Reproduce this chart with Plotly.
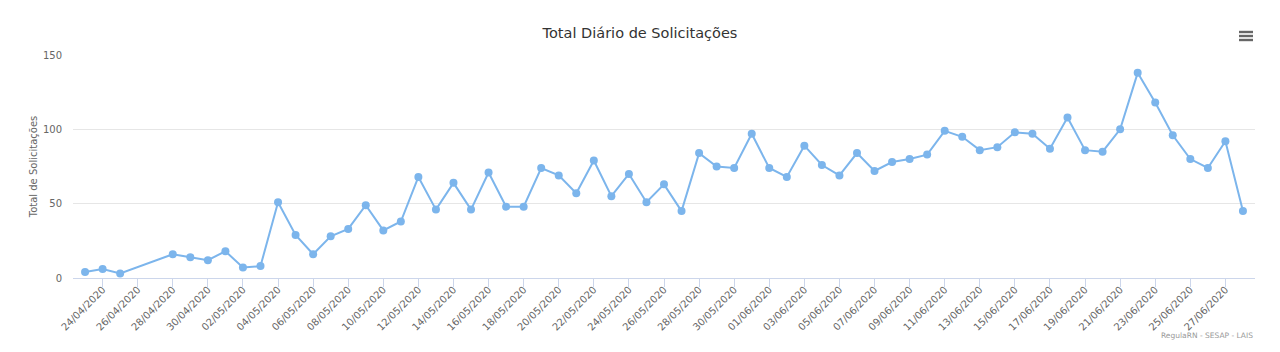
import plotly.graph_objects as go

dates = [
    "2020-04-23", "2020-04-24", "2020-04-25", "2020-04-28", "2020-04-29", "2020-04-30",
    "2020-05-01", "2020-05-02", "2020-05-03", "2020-05-04", "2020-05-05", "2020-05-06",
    "2020-05-07", "2020-05-08", "2020-05-09", "2020-05-10", "2020-05-11", "2020-05-12",
    "2020-05-13", "2020-05-14", "2020-05-15", "2020-05-16", "2020-05-17", "2020-05-18",
    "2020-05-19", "2020-05-20", "2020-05-21", "2020-05-22", "2020-05-23", "2020-05-24",
    "2020-05-25", "2020-05-26", "2020-05-27", "2020-05-28", "2020-05-29", "2020-05-30",
    "2020-05-31", "2020-06-01", "2020-06-02", "2020-06-03", "2020-06-04", "2020-06-05",
    "2020-06-06", "2020-06-07", "2020-06-08", "2020-06-09", "2020-06-10", "2020-06-11",
    "2020-06-12", "2020-06-13", "2020-06-14", "2020-06-15", "2020-06-16", "2020-06-17",
    "2020-06-18", "2020-06-19", "2020-06-20", "2020-06-21", "2020-06-22", "2020-06-23",
    "2020-06-24", "2020-06-25", "2020-06-26", "2020-06-27", "2020-06-28",
]

totals = [
    4, 6, 3, 16, 14, 12,
    18, 7, 8, 51, 29, 16,
    28, 33, 49, 32, 38, 68,
    46, 64, 46, 71, 48, 48,
    74, 69, 57, 79, 55, 70,
    51, 63, 45, 84, 75, 74,
    97, 74, 68, 89, 76, 69,
    84, 72, 78, 80, 83, 99,
    95, 86, 88, 98, 97, 87,
    108, 86, 85, 100, 138, 118,
    96, 80, 74, 92, 45,
]

title_text = "Total Diário de Solicitações"
y_title = "Total de Solicitações"
credits_text = "RegulaRN - SESAP - LAIS"

FONT = "DejaVu Sans"
W, H = 1280, 352
ML, MR, MT, MB = 73, 25, 55, 74

fig = go.Figure()
fig.add_trace(go.Scatter(
    x=dates, y=totals, mode="lines+markers",
    line=dict(color="#7cb5ec", width=2),
    marker=dict(color="#7cb5ec", size=8),
    showlegend=False,
    hovertemplate="%{x|%d/%m/%Y}: %{y}<extra></extra>",
))

fig.update_layout(
    width=W, height=H,
    margin=dict(l=ML, r=MR, t=MT, b=MB),
    paper_bgcolor="white", plot_bgcolor="white",
    font=dict(family=FONT, color="#666666", size=10),
    title=dict(text=title_text, x=0.5, xanchor="center", y=1 - 33 / H, yanchor="middle",
               font=dict(family=FONT, size=14.5, color="#333333")),
    xaxis=dict(
        type="date",
        range=["2020-04-22 07:30", "2020-06-28 16:30"],
        tick0="2020-04-24", dtick=2 * 86400000,
        tickformat="%d/%m/%Y", tickangle=-45,
        ticks="outside", ticklen=8, tickcolor="#ccd6eb",
        ticklabelstandoff=-7,
        showline=True, linecolor="#ccd6eb", linewidth=1,
        showgrid=False, zeroline=False,
        tickfont=dict(size=10, color="#666666"),
    ),
    yaxis=dict(
        range=[0, 150], tickvals=[0, 50, 100, 150],
        showgrid=True, gridcolor="#e6e6e6", gridwidth=1,
        zeroline=False, showline=False,
        ticks="", ticklabelstandoff=10,
        tickfont=dict(size=10, color="#666666"),
        title=dict(text=y_title, font=dict(size=10, color="#666666"), standoff=3),
    ),
    annotations=[dict(
        text=credits_text, xref="paper", yref="paper",
        x=1.0, xanchor="right", y=-(336 - (H - MB)) / (H - MT - MB), yanchor="middle",
        showarrow=False, font=dict(family=FONT, size=7.5, color="#999999"),
    )],
)

# export-menu (hamburger) icon, in paper coordinates
pw, ph = W - ML - MR, H - MT - MB
def px_x(x):
    return (x - ML) / pw
def px_y(y):
    return (H - MB - y) / ph
for yy in (32, 36, 40):
    fig.add_shape(type="rect", xref="paper", yref="paper",
                  x0=px_x(1239), x1=px_x(1253), y0=px_y(yy + 1.2), y1=px_y(yy - 1.2),
                  fillcolor="#666666", line=dict(width=0))

fig.write_html("out.html")
